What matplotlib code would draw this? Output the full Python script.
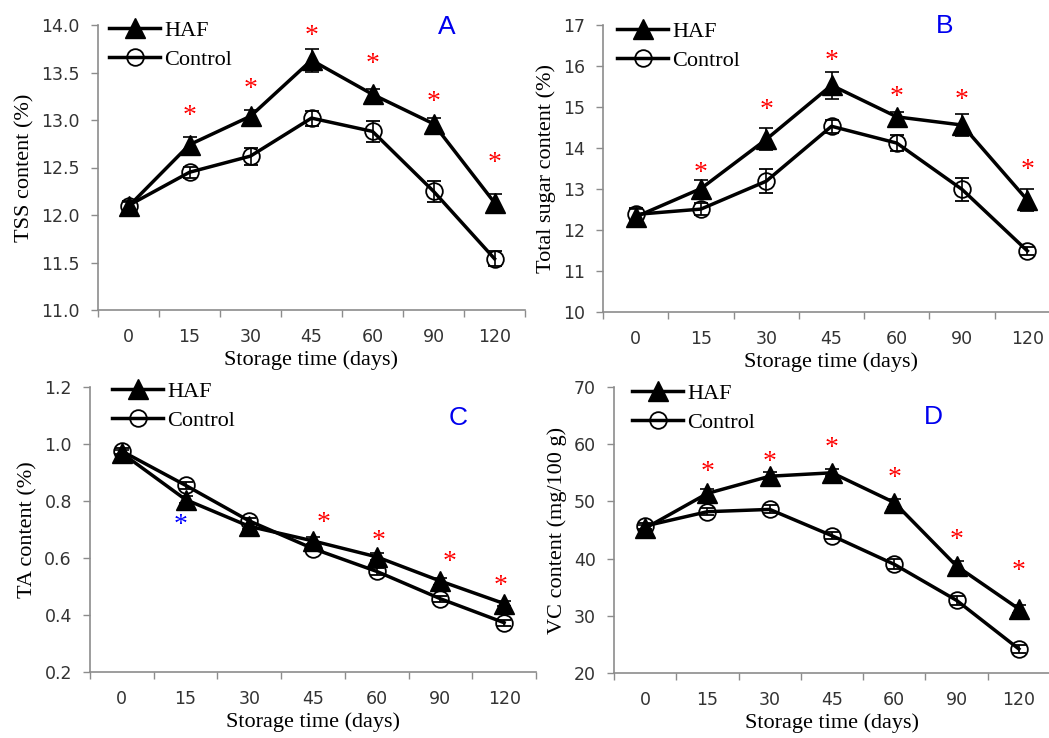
import matplotlib
matplotlib.use("Agg")
import matplotlib.pyplot as plt
from matplotlib.lines import Line2D
import numpy as np

# 貯蔵日数
days = ["0", "15", "30", "45", "60", "90", "120"]
nan = np.nan

# A: TSS
tss_haf = [12.09, 12.74, 13.04, 13.63, 13.27, 12.96, 12.13]
tss_haf_err = [0.05, 0.08, 0.07, 0.12, 0.06, 0.06, 0.09]
tss_ctrl = [12.10, 12.45, 12.62, 13.02, 12.88, 12.25, 11.54]
tss_ctrl_err = [0.05, 0.06, 0.09, 0.08, 0.11, 0.11, 0.08]
tss_star = [nan, 13.11, 13.39, 13.95, 13.66, 13.26, 12.61]

# B: total sugar
sugar_haf = [12.32, 13.01, 14.21, 15.53, 14.76, 14.56, 12.73]
sugar_haf_err = [0.20, 0.20, 0.27, 0.33, 0.12, 0.26, 0.26]
sugar_ctrl = [12.38, 12.51, 13.19, 14.53, 14.12, 12.99, 11.49]
sugar_ctrl_err = [0.15, 0.15, 0.29, 0.16, 0.19, 0.28, 0.10]
sugar_star = [nan, 13.54, 15.09, 16.29, 15.41, 15.33, 13.62]

# C: TA
ta_haf = [0.968, 0.805, 0.711, 0.660, 0.604, 0.519, 0.440]
ta_haf_err = [0.012, 0.012, 0.010, 0.012, 0.012, 0.012, 0.010]
ta_ctrl = [0.975, 0.855, 0.730, 0.633, 0.553, 0.457, 0.373]
ta_ctrl_err = [0.010, 0.012, 0.010, 0.010, 0.012, 0.010, 0.010]
ta_star = [nan, 0.738, nan, 0.744, 0.683, 0.609, 0.524]

# D: VC
vc_haf = [45.3, 51.4, 54.4, 55.0, 49.8, 38.7, 31.2]
vc_haf_err = [0.6, 0.8, 0.7, 0.6, 0.7, 0.9, 0.7]
vc_ctrl = [45.7, 48.2, 48.6, 44.0, 39.0, 32.7, 24.2]
vc_ctrl_err = [0.5, 0.6, 0.7, 0.6, 0.9, 0.8, 0.7]
vc_star = [nan, 56.3, 58.1, 60.4, 55.2, 44.4, 39.0]

W, H = 1049, 738
fig = plt.figure(figsize=(W / 100, H / 100), dpi=100)

serif = "Liberation Serif"
axcol = "#8c8c8c"

def px(x, y):
    return x / W, 1 - y / H

# パネル設定 (left, top, right, bottom in px)
panels = [
    dict(box=(98, 25, 525, 310), haf=tss_haf, he=tss_haf_err, ctrl=tss_ctrl, ce=tss_ctrl_err,
         star=tss_star, ylim=(11.0, 14.0), yt=np.arange(11.0, 14.01, 0.5), fmt="%.1f",
         ylabel="TSS content (%)", letter="A", lpos=(447, 27), leg=(109, 32)),
    dict(box=(603, 25, 1060, 312), haf=sugar_haf, he=sugar_haf_err, ctrl=sugar_ctrl, ce=sugar_ctrl_err,
         star=sugar_star, ylim=(10, 17), yt=np.arange(10, 17.1, 1), fmt="%d",
         ylabel="Total sugar content (%)", letter="B", lpos=(945, 26), leg=(617, 33)),
    dict(box=(90, 387, 536, 672), haf=ta_haf, he=ta_haf_err, ctrl=ta_ctrl, ce=ta_ctrl_err,
         star=ta_star, ylim=(0.2, 1.2), yt=np.arange(0.2, 1.21, 0.2), fmt="%.1f",
         ylabel="TA content (%)", letter="C", lpos=(458, 418), leg=(112, 393)),
    dict(box=(614, 387, 1050, 673), haf=vc_haf, he=vc_haf_err, ctrl=vc_ctrl, ce=vc_ctrl_err,
         star=vc_star, ylim=(20, 70), yt=np.arange(20, 70.1, 10), fmt="%d",
         ylabel="VC content (mg/100 g)", letter="D", lpos=(933, 417), leg=(632, 395)),
]

star_dx = {2: [0, -0.08, 0, 0.16, 0.03, 0.15, -0.05]}
star_col = {2: ["red", "blue", "red", "red", "red", "red", "red"]}

haf_style = dict(color="black", lw=2.5, marker="^", ms=14, mfc="black", mec="black")
ctrl_style = dict(color="black", lw=2.5, marker="o", ms=12, mfc="none", mec="black", mew=1.3)

x = np.arange(len(days))
for k, p in enumerate(panels):
    l, t, r, b = p["box"]
    ax = fig.add_axes([l / W, 1 - b / H, (r - l) / W, (b - t) / H])
    ax.errorbar(x, p["ctrl"], yerr=p["ce"], capsize=5, elinewidth=1.2, capthick=1.2,
                ecolor="black", zorder=3, **ctrl_style)
    ax.errorbar(x, p["haf"], yerr=p["he"], capsize=5, elinewidth=1.2, capthick=1.2,
                ecolor="black", zorder=4, **haf_style)
    # 有意差の星印
    dx = star_dx.get(k, [0] * 7)
    cols = star_col.get(k, ["red"] * 7)
    for i, sy in enumerate(p["star"]):
        if not np.isnan(sy):
            ax.annotate("*", (i + dx[i], sy), xytext=(0, -5), textcoords="offset points",
                        color=cols[i], fontsize=20, family=serif, ha="center", va="center")
    ax.set_xlim(-0.5, 6.5)
    ax.set_ylim(p["ylim"])
    ax.set_xticks(x)
    ax.set_xticklabels(days)
    ax.set_xticks(np.arange(-0.5, 6.6, 1), minor=True)
    ax.set_yticks(p["yt"])
    ax.set_yticklabels([p["fmt"] % v for v in p["yt"]])
    ax.tick_params(axis="x", which="major", length=0, pad=13, labelsize=12.5, labelcolor="#333333")
    ax.tick_params(axis="x", which="minor", length=5, color=axcol, width=1)
    ax.tick_params(axis="y", length=5, color=axcol, width=1, pad=8, labelsize=12.5, labelcolor="#333333")
    for s in ["top", "right"]:
        ax.spines[s].set_visible(False)
    for s in ["left", "bottom"]:
        ax.spines[s].set_color(axcol)
        ax.spines[s].set_linewidth(1.2)
    ax.set_xlabel("Storage time (days)", fontsize=16, family=serif, labelpad=3)
    ax.set_ylabel(p["ylabel"], fontsize=16, family=serif, labelpad=5)

    hnd = [Line2D([], [], **haf_style), Line2D([], [], **ctrl_style)]
    lx, ly = p["leg"]
    ax.legend(hnd, ["HAF", "Control"], loc="upper left", frameon=False,
              bbox_to_anchor=((lx - l) / (r - l), 1 - (ly - 12 - t) / (b - t)),
              borderaxespad=0, borderpad=0, handlelength=2.3, handletextpad=0.2,
              labelspacing=0.4, prop=dict(family=serif, size=16))
    fx, fy = px(*p["lpos"])
    fig.text(fx, fy, p["letter"], color="#0000ee", fontsize=19, family="Liberation Sans",
             ha="center", va="center")

fig.savefig("out.png", dpi=100)
